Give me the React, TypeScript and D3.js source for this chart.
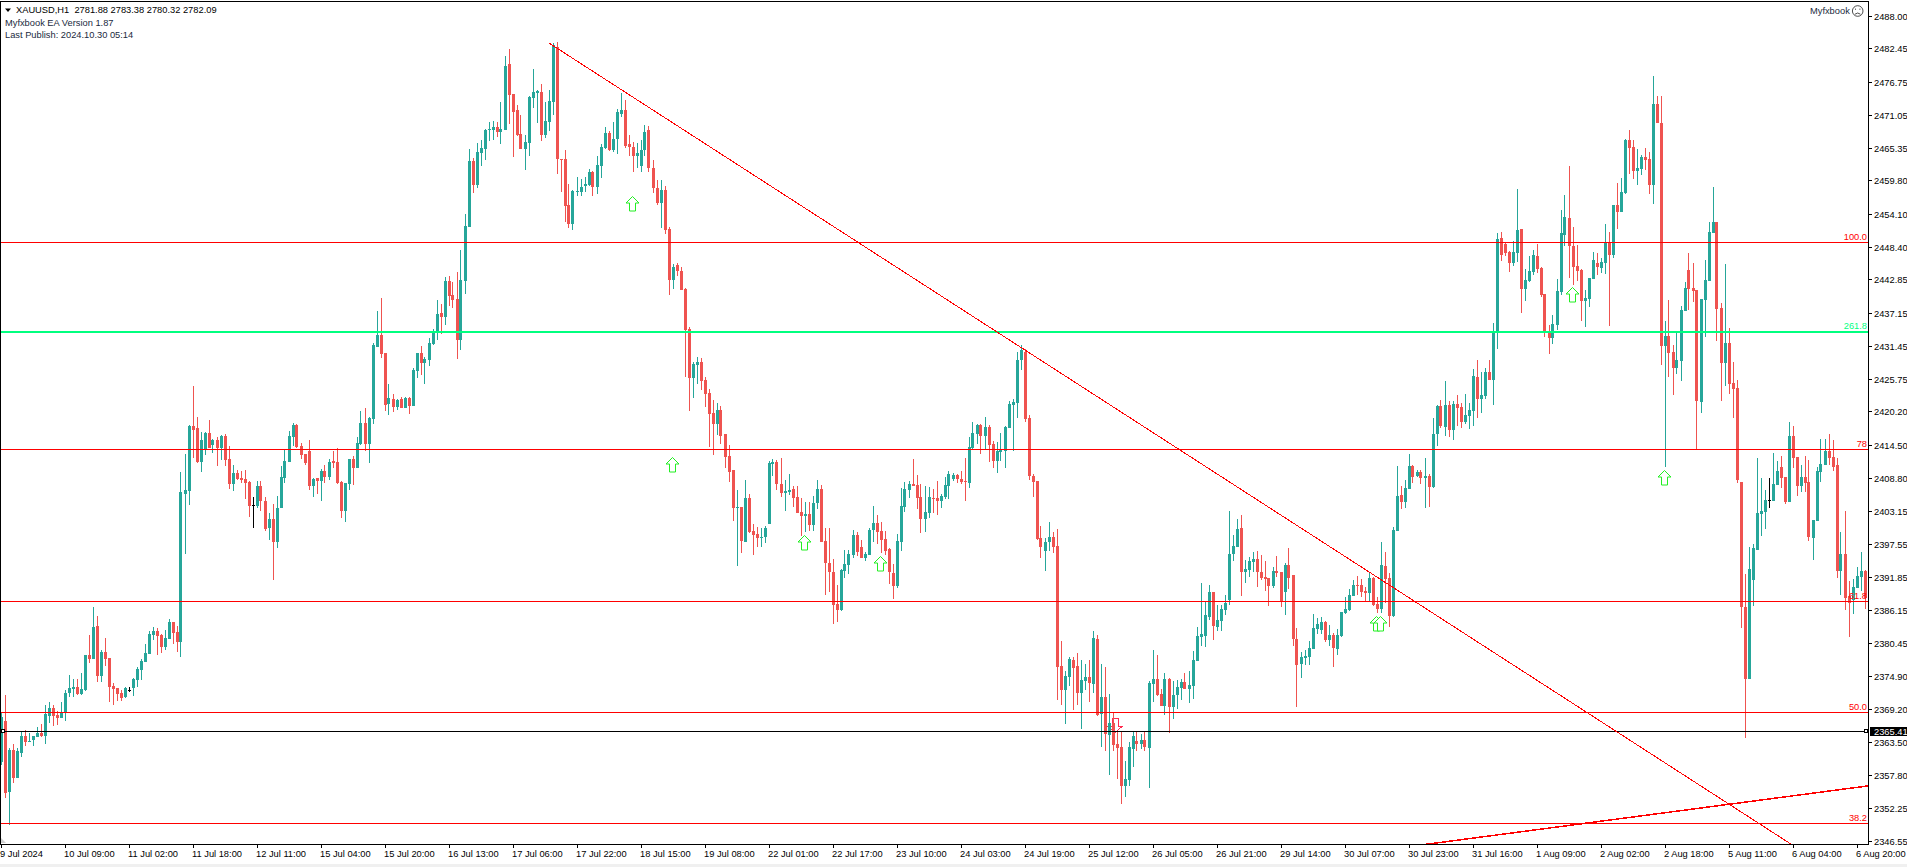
import React from 'react';
import * as d3 from 'd3';

const width = 1907;
const height = 867;
const plotRight = 1868;
const axisY = 844;

const opens = [
  2360.2,2367.2,2355.1,2362.2,2357.4,2361.7,2364.6,2363.6,2364,2364.5,
  2365.2,2364.6,2368.1,2369.4,2368.2,2367.7,2368.6,2372,2372.7,2373,
  2371.8,2372.5,2378.5,2377.8,2383.5,2374.9,2379,2378,2373.2,2372.9,
  2372,2371.3,2372.6,2372.9,2374.2,2376,2377.3,2378.7,2382,2382.6,
  2382,2379.9,2381.3,2384.2,2382.5,2380.8,2406.1,2406.7,2417.8,2417.5,
  2411.6,2413.9,2416.6,2414.5,2415.4,2414,2416.1,2412.1,2407.9,2409.7,
  2408.9,2408.7,2408.2,2404.2,2404.1,2407.5,2405,2400.3,2401.9,2397.9,
  2403.7,2408.9,2411.6,2415.9,2418,2414.4,2413,2413.5,2407.5,2408.9,
  2408.4,2410.1,2409.1,2411.8,2411.6,2408.2,2403.2,2407.9,2412.1,2410.6,
  2414.7,2418.3,2414.7,2419,2431.3,2433.4,2430.3,2421.6,2422.4,2421.1,
  2422.4,2420.9,2422.6,2421.2,2427.2,2430.3,2428.6,2429.1,2431.9,2433.9,
  2437.2,2436.5,2442.7,2440.3,2439.6,2432.5,2442.7,2451.9,2463.2,2459.1,
  2464.6,2465.3,2468.5,2468.5,2469,2468.2,2468.5,2479.9,2474.7,2472,
  2467.9,2465.3,2466.3,2474,2474.9,2475,2467.7,2469.9,2473.3,2482.8,
  2463.6,2463.6,2455.7,2452.4,2457.9,2457.9,2458.9,2459.1,2461.3,2458.8,
  2462.4,2465.5,2468,2465.1,2467,2471.3,2472,2466.1,2465.6,2464.1,
  2462.4,2465.1,2468.5,2462,2458.6,2456,2458.3,2451.6,2442.8,2445.4,
  2444.4,2441.3,2434.4,2426,2428.2,2428.8,2425.7,2423.4,2420,2418.1,
  2420.5,2416.4,2412.6,2410.2,2403.7,2403.9,2397.9,2405.4,2399.8,2399.3,
  2398.7,2398.8,2401,2411.3,2411.6,2407.9,2406.3,2406.5,2407,2405.6,
  2403.1,2402.4,2402.7,2400.8,2404.6,2407,2398.1,2394.3,2392.8,2387.3,
  2386.3,2392.9,2394,2395.7,2399.1,2397,2395.2,2395.7,2400,2401.2,
  2399.8,2398.4,2396.7,2392.6,2390.4,2397.9,2403.9,2406.8,2407.9,2407.7,
  2405.6,2401.9,2402.9,2405.4,2405.4,2404.9,2405.6,2407.5,2408.7,2409.4,
  2408.7,2408.3,2408,2414,2416.4,2418,2416.1,2417.6,2414.7,2411.8,
  2413.3,2413.5,2417.4,2421.4,2421.7,2429.1,2430.5,2419.2,2409.2,2408.4,
  2398.6,2396.4,2397.9,2398.8,2397.2,2376.6,2372.5,2374.8,2377.7,2376.6,
  2372,2374.1,2374.8,2373.6,2381.3,2368.4,2371.3,2364.8,2366.9,2363.3,
  2362.8,2356,2357.1,2362.4,2363.8,2363.3,2364,2362.6,2373.6,2374.4,
  2371.8,2369.8,2374.4,2369.6,2371.7,2372.9,2373.9,2372.7,2373.2,2377.5,
  2381.6,2381.8,2385,2389.3,2383.3,2384.4,2386.3,2387.9,2395.8,2397.1,
  2400.3,2392.8,2393.1,2394.5,2395,2392.8,2391.9,2391.7,2390.4,2392.9,
  2392.8,2389.3,2393.9,2392.2,2381.3,2377,2378,2378.2,2379.6,2383,
  2382.8,2384.2,2381.1,2382,2379.6,2381.8,2385.7,2386.2,2388.6,2390.5,
  2390.5,2389.5,2389.2,2391.7,2387.3,2386.4,2393.8,2391.7,2385.2,2399.8,
  2406,2404.8,2407,2410.9,2409.2,2409.9,2408.9,2409.2,2407.3,2416.4,
  2421.2,2417.6,2421.4,2417.1,2421.6,2421.1,2418.5,2419.5,2420.4,2426.2,
  2422.4,2422.9,2427,2425.7,2433.7,2450,2449,2447.6,2445.7,2447.5,
  2451.6,2441.3,2442.7,2444.2,2446.9,2444.9,2440.4,2433.7,2432.9,2435.1,
  2440.8,2450.5,2453.5,2448.7,2445.2,2444.5,2439.2,2439.6,2443,2445.8,
  2444.9,2445.8,2449.3,2447.1,2455.7,2454.5,2457.7,2466.8,2465.6,2461.5,
  2461.9,2463.9,2463.6,2459.1,2473,2469.7,2431.5,2433.2,2430.5,2427.7,
  2428.9,2437.5,2444.5,2441.5,2441.1,2421.9,2439.4,2442.7,2450.9,2452.8,
  2438,2428.6,2432,2425.2,2424.3,2408.2,2386.8,2374.4,2391.4,2396.5,
  2402.7,2403,2405.1,2404.9,2407.7,2410.8,2409,2404.8,2416.1,2412.5,
  2407.5,2409,2408.2,2398.6,2401.5,2409.9,2411.1,2413.5,2412.5,2411.1,
  2392.9,2395.8,2388.6,2388,2390,2391.9,2392.9,
];

const highs = [
  2368.8,2371.7,2362.5,2363.3,2362.5,2365.3,2365.7,2365.2,2364.6,2366.2,
  2366.7,2369.9,2370.5,2369.9,2368.9,2370.5,2372.5,2375.1,2374.4,2374.4,
  2375.4,2378.5,2382,2386.8,2385.2,2379.4,2381.4,2378,2373.7,2372.9,
  2372.5,2373,2373,2374.6,2376.5,2377.8,2380.4,2382.6,2383.3,2383.2,
  2382.1,2382.8,2384.7,2384.2,2383.5,2409.9,2413,2418,2424.7,2419.3,
  2416.8,2416.8,2418.8,2415.6,2415.9,2416.3,2416.4,2414.4,2411.1,2410.3,
  2410.1,2410.3,2408.4,2405.6,2408.4,2408.4,2405.6,2402.9,2404.4,2405.8,
  2410.9,2413.9,2417,2418.3,2418.1,2414.9,2413,2415.4,2408.9,2408.9,
  2410.4,2411.1,2412.1,2413.5,2414,2408.4,2408,2412.1,2412.7,2415.9,
  2420.4,2420.9,2419.3,2432,2437.5,2439.7,2430.3,2425,2423.3,2422.4,
  2422.8,2422.8,2422.8,2427.7,2430.3,2431.5,2429.6,2432.9,2434.5,2439.4,
  2438.7,2443.3,2443.5,2442.5,2444.2,2448,2454.1,2465.3,2463.7,2466.3,
  2466.8,2468.7,2469.9,2470.1,2469.9,2473.3,2481.2,2482.4,2474.7,2472.8,
  2471.1,2467.7,2474.4,2479,2475.4,2476.4,2473.3,2475.4,2483.5,2483.6,
  2463.6,2465.1,2459.3,2458.3,2460.5,2460.1,2460.5,2461.9,2461.5,2464.1,
  2466.1,2469.1,2468.4,2469.9,2472.1,2474.9,2473.7,2467.7,2466.5,2466.3,
  2466.8,2469.4,2469.2,2463.4,2460,2460,2459,2451.9,2445.6,2445.7,
  2445.1,2441.4,2434.8,2428.8,2429.6,2429.5,2426.2,2424.1,2422.3,2421.7,
  2421.2,2416.4,2414.5,2410.2,2406.8,2403.9,2408.5,2406.1,2401,2400.5,
  2400.3,2400.6,2411.8,2412.1,2412,2412.3,2408.5,2409.6,2407.5,2407.5,
  2405.4,2404.8,2404.8,2405.8,2408.5,2407.7,2400.3,2400.3,2395,2390.5,
  2393.3,2396.5,2396.5,2400,2399.6,2398.2,2396.2,2400.3,2404.1,2402.5,
  2401.3,2399.8,2396.9,2394.1,2399.3,2407.2,2408.2,2408.4,2412.1,2409.4,
  2407.9,2407.5,2407.3,2407,2408.4,2406.1,2409.1,2410.1,2409.7,2409.6,
  2410.1,2412.3,2415.9,2418.5,2418.1,2418.1,2419.3,2418,2415.2,2415,
  2416.6,2417.8,2422.1,2422.5,2430.5,2431.7,2431,2419.7,2409.6,2408.4,
  2400.6,2398.6,2401.3,2399.6,2400.1,2380.9,2375.8,2378.2,2378.2,2378.9,
  2377.7,2376.9,2377.7,2382.6,2382,2377,2376.5,2371.8,2368.8,2365.5,
  2365.5,2360.4,2363.6,2365.5,2365.3,2365,2365.5,2374.1,2379.4,2378.5,
  2372.7,2375.4,2374.6,2374.1,2374.3,2374.4,2375.4,2375.8,2379.2,2383.3,
  2390.9,2387.8,2390.5,2389.3,2387.1,2387.1,2388.8,2403.2,2399.1,2401.8,
  2402.5,2394.8,2395.3,2396.2,2396.4,2395.7,2394.6,2391.7,2393.6,2395.5,
  2392.8,2394.3,2396.9,2392.2,2383.2,2379,2379.4,2380.9,2385.5,2384.9,
  2385,2384.4,2383.7,2382.3,2383,2385.9,2388.5,2389.8,2391.4,2392.1,
  2391.6,2390.2,2392.6,2391.9,2388.5,2397.9,2396.2,2392.6,2400.5,2410.9,
  2407.5,2408.5,2413,2411.1,2410.2,2410.2,2412.3,2409.6,2419.2,2421.4,
  2422.2,2425.5,2422.1,2422.1,2423.1,2421.7,2423.3,2421.7,2427.6,2429.1,
  2427,2427.7,2429.1,2435.5,2450.9,2451.1,2449.3,2447.8,2449.5,2458.4,
  2451.6,2444.7,2447,2448,2449,2445,2440.4,2435.1,2436.8,2443,
  2454.8,2457.4,2462.4,2451.9,2448.8,2444.7,2441.1,2443.2,2447.6,2447.5,
  2446.6,2452.4,2451,2455.7,2459.5,2460.3,2467,2468.5,2466.8,2465.3,
  2464.3,2465.5,2464.8,2477.8,2474.4,2474.4,2435.8,2439.4,2431.7,2433.9,
  2438.4,2442.5,2447.5,2445.7,2441.1,2439.6,2446.3,2452.7,2458.8,2452.8,
  2438.9,2445.6,2434.6,2428.8,2425.7,2408.2,2392.4,2397,2397.6,2412.3,
  2408.9,2406.8,2408.9,2413.2,2411.8,2412.7,2409,2418.5,2417.8,2412.5,
  2411.1,2412.7,2412,2401.7,2410.8,2415.6,2415.6,2416.4,2415.4,2412.3,
  2399.6,2403.2,2391.2,2391.6,2393.6,2396.2,2393.1,
];

const lows = [
  2359.6,2354,2349.4,2356.5,2357.4,2361.1,2362.9,2363.6,2362.9,2364.5,
  2364.5,2363.3,2366.9,2366.4,2366.5,2367.7,2367.2,2371.3,2371.3,2371.7,
  2371.7,2372.3,2377.1,2377.8,2373.9,2373.9,2376.6,2370.5,2369.9,2370.6,
  2370.6,2371.2,2372.2,2371.5,2373,2374.2,2377.3,2378.7,2381.1,2378.5,
  2378.9,2379.4,2381.3,2380.4,2379,2378.2,2395.9,2404.3,2412.3,2411.5,
  2409.9,2412.8,2414,2413.2,2410.9,2412,2410.9,2407,2406.7,2408.5,
  2408,2405.3,2402.2,2400.3,2403.7,2403.2,2399.8,2398.3,2391.4,2396.9,
  2403.7,2408,2411.6,2414.4,2414,2412.1,2411.1,2406.8,2405.6,2406.1,
  2404.9,2408,2408.5,2410.6,2407.9,2402,2401.3,2406.8,2407.7,2410.6,
  2414.5,2413.5,2411.5,2418.1,2431.3,2429.5,2420.4,2419.7,2420.2,2420.5,
  2420.9,2420.9,2419.9,2421.2,2426,2426.5,2425,2428.1,2431.7,2432.5,
  2433.6,2435.1,2438.3,2438,2429.3,2430.8,2440.4,2451.9,2457.7,2458.6,
  2462.4,2463.4,2466.7,2466.8,2467.3,2466.1,2468.5,2469.6,2463.9,2467.5,
  2465.3,2461.7,2464.1,2472.3,2469.7,2466.7,2467.2,2468.4,2471.1,2461,
  2457.9,2452.8,2451.7,2451.4,2457.2,2457.2,2457.9,2458.9,2457.2,2457.6,
  2460.3,2465.3,2464.9,2464.8,2464.4,2470.8,2465.5,2464.1,2461.3,2462,
  2461.3,2464.1,2461.3,2457.7,2455.7,2451.7,2450.7,2440.2,2441.3,2443.5,
  2441.1,2426.2,2420.4,2422.6,2425,2424,2421.1,2414.2,2412.8,2416.2,
  2414.7,2410.6,2408.2,2401.5,2393.8,2396,2397.9,2399.4,2395.7,2397,
  2397,2397.7,2401,2409.2,2406.8,2405.6,2403.2,2406,2403.9,2402.9,
  2398.9,2399.6,2399.8,2399.8,2403.6,2397.9,2388.8,2389.3,2383.8,2384.2,
  2386.1,2391.7,2392.4,2395.2,2395.5,2395.2,2394.6,2395.7,2397.9,2397.6,
  2396,2395.7,2390.7,2388.1,2390,2396.4,2403,2405.4,2407.5,2403.6,
  2399.4,2399.6,2402,2402.9,2402.5,2403.7,2405.3,2405.3,2408.4,2408,
  2407.9,2404.9,2407.2,2413.7,2414.7,2413,2413.7,2411.6,2410.6,2409.7,
  2411.8,2410.6,2417.4,2413.5,2419.2,2427.4,2418.5,2408.5,2405.6,2398.2,
  2395.2,2392.9,2396.4,2396,2370.8,2370,2366.7,2373.2,2369.1,2370,
  2365.8,2372.5,2370.5,2372,2368,2362.8,2362,2358,2362,2357.3,
  2353,2354.2,2356,2359.3,2362,2362.4,2362,2355.7,2370.5,2371.5,
  2369.8,2368.2,2365.2,2367.6,2369.3,2370.8,2372.7,2370.3,2371,2377.5,
  2380.1,2379.9,2384.5,2381.1,2382.6,2382.6,2385.4,2387.1,2394.6,2397.1,
  2388.6,2390.9,2391.9,2392.8,2390.2,2391.4,2389.5,2386.9,2390,2391.9,
  2386.8,2385.4,2389.8,2380.1,2369.6,2374.6,2376.8,2376.8,2379.6,2382.2,
  2382.1,2380.8,2380.1,2376.5,2378.5,2381.6,2385.6,2386.1,2388.6,2388.8,
  2388.5,2387.8,2387.8,2386.9,2385.7,2385.7,2387.4,2383.3,2385,2399.8,
  2403.6,2403.7,2407,2408,2409,2407.8,2403.7,2403.9,2407.2,2414.4,
  2417.4,2416.1,2415.9,2415.4,2417.8,2417.4,2418.1,2417.3,2417.8,2419.2,
  2420,2422.4,2425.7,2421.4,2431,2446.1,2447,2444.2,2445.2,2445.9,
  2437.2,2439.2,2442.5,2443.7,2444,2439.9,2433,2430.1,2431.9,2434.3,
  2440.3,2448.7,2443.2,2442,2442.7,2435.8,2434.8,2438.2,2443,2443.7,
  2444,2443.9,2434.9,2446.6,2451.6,2454.5,2457.6,2461,2460.2,2459.1,
  2460.8,2461.7,2457.6,2455.9,2469.7,2428.3,2410.8,2426.2,2423.1,2426.7,
  2425.5,2437.5,2437.7,2439.1,2413.8,2420,2433.1,2442.7,2450.9,2432.4,
  2422.1,2424.7,2423.3,2419.2,2408,2383.2,2364.3,2374.4,2386.9,2396.5,
  2398.9,2400.1,2403.7,2404.9,2407.7,2407.2,2404.4,2404.8,2410.6,2405.8,
  2406.5,2406.5,2398.1,2394.8,2401.5,2408.2,2411.1,2411.1,2410.1,2391.7,
  2388.8,2386.2,2381.6,2385.6,2390,2389.5,2386.4,
];

const closes = [
  2367.9,2354.9,2362.2,2357.4,2362.1,2364.6,2363.6,2363.8,2364.6,2365.2,
  2364.6,2368.4,2369.4,2368.1,2367.7,2368.6,2372,2372.9,2373,2371.8,
  2372.7,2378.5,2377.8,2383.3,2374.9,2379,2377.8,2373,2372.7,2371.8,
  2371.2,2372.9,2372.6,2374.4,2376.1,2377.5,2378.9,2382.1,2382.6,2381.8,
  2379.9,2381.4,2384.2,2382.3,2380.8,2406.5,2406.8,2417.8,2417.1,2411.6,
  2415.4,2416.6,2414,2415.4,2414,2416.1,2412,2407.9,2409.7,2408.7,
  2408.5,2408,2404.1,2404.2,2407.5,2405,2400.1,2401.9,2397.9,2403.7,
  2409.1,2411.8,2416.1,2418,2414.2,2412.8,2411.5,2407.5,2408.7,2408.4,
  2410.1,2409.1,2411.6,2411.5,2408,2403.2,2408,2412.1,2410.6,2414.9,
  2418.3,2414.7,2419.2,2431.7,2433.4,2430.1,2421.4,2422.6,2421.1,2422.3,
  2420.9,2422.6,2421.2,2427.4,2430.3,2428.6,2429.3,2432,2433.9,2437,
  2436.5,2442.7,2440.1,2439.4,2432.5,2442.8,2452.1,2463.2,2459.1,2464.8,
  2465.5,2468.5,2468.7,2469,2468.2,2468.7,2479.5,2474.5,2471.6,2467.7,
  2465.3,2466.5,2474.2,2475,2475.2,2467.7,2470.1,2473.5,2483.1,2463.6,
  2463.4,2455.5,2452.4,2458.1,2458.1,2458.8,2459.3,2461.3,2458.8,2462.5,
  2465.6,2468,2465.1,2467,2471.6,2472,2465.8,2465.6,2464.1,2464.6,
  2465.1,2468.2,2462,2458.6,2456,2458.3,2451.4,2442.8,2445.1,2444.4,
  2441.1,2434.3,2426,2428.4,2428.8,2425.5,2423.3,2419.8,2418.1,2420.5,
  2416,2412.5,2409.9,2403.7,2403.9,2398.1,2405.4,2399.6,2399.1,2398.6,
  2398.8,2400.3,2411.4,2411.6,2407.9,2406.3,2406.6,2406.8,2405.4,2402.9,
  2402.4,2402.7,2400.8,2404.6,2407,2397.9,2394.3,2392.8,2387.1,2386.3,
  2393.1,2394.1,2395.9,2399.1,2396.2,2395.2,2395.8,2399.9,2401.2,2399.6,
  2398.2,2396.4,2392.8,2390.4,2398.1,2404,2407,2407.9,2407.5,2405.4,
  2401.9,2403,2405.6,2405.3,2404.9,2405.8,2407.7,2409.6,2409.4,2408.7,
  2408.2,2408.2,2414.2,2416.6,2418,2416.1,2417.6,2414.5,2411.8,2413.5,
  2413.7,2417.6,2421.6,2421.9,2429.1,2430.8,2419,2409.2,2408.2,2398.4,
  2397.1,2397.9,2398.8,2397.1,2376.5,2372.5,2374.9,2377.8,2376.3,2372,
  2374.3,2374.8,2373.7,2381.4,2368.2,2371.3,2365,2366.9,2363.1,2362.6,
  2356,2357.3,2362.8,2364.6,2363.3,2364,2362.8,2373.7,2374.4,2371.7,
  2369.8,2374.4,2369.6,2371.7,2373,2373.9,2372.7,2373.4,2377.7,2381.8,
  2382.1,2385.4,2389.3,2383.5,2384.5,2386.4,2387.4,2395.8,2397.2,2400.1,
  2392.8,2393.3,2394.6,2395,2392.8,2391.7,2391.6,2390.4,2392.9,2392.6,
  2387.6,2393.9,2391.7,2381.3,2376.8,2378.2,2378.4,2379.7,2383.2,2383.8,
  2384.2,2381.1,2382,2379.7,2382,2385.9,2386.4,2388.8,2390.5,2390.4,
  2389.3,2389.2,2391.7,2387.1,2386.4,2393.9,2391.6,2385.2,2400,2405.8,
  2404.8,2407.2,2410.9,2409,2409.9,2408.9,2409.2,2407.3,2416.4,2421.2,
  2417.8,2421.4,2417.1,2421.6,2420.9,2418.5,2419.7,2420.5,2426.4,2422.4,
  2423.1,2427,2425.7,2433.9,2449.9,2447.1,2447.5,2445.7,2447.6,2451.4,
  2441.3,2442.8,2444.4,2447.1,2444.7,2440.3,2433.9,2432.9,2435.3,2440.9,
  2450.9,2453.6,2448.7,2445.1,2444.4,2439.2,2439.7,2443.2,2446.3,2445.1,
  2445.9,2449.2,2447.1,2455.7,2454.5,2457.9,2466.8,2465.5,2461.5,2462,
  2463.9,2463.4,2459.1,2473,2469.7,2431.5,2433.2,2430.3,2427.7,2429.1,
  2437.7,2441.5,2441.3,2440.9,2422.1,2439.6,2442.8,2451,2452.8,2437.9,
  2428.6,2432,2425,2424.1,2408.5,2386.8,2374.4,2393.3,2396.9,2402.9,
  2403.2,2405.1,2405.1,2407.9,2410.1,2408.9,2404.8,2416.1,2412.3,2407.5,
  2409,2408,2398.8,2401.7,2410.1,2411.3,2413.5,2412.3,2410.8,2392.9,
  2395.8,2388.3,2387.4,2390.2,2392.1,2392.9,2388.3,
];

const priceTicks = [
  '2488.00','2482.45','2476.75','2471.05','2465.35','2459.80','2454.10','2448.40','2442.85',
  '2437.15','2431.45','2425.75','2420.20','2414.50','2408.80','2403.15','2397.55','2391.85',
  '2386.15','2380.45','2374.90','2369.20','2363.50','2357.80','2352.25','2346.55',
];

const dateLabels = [
  '9 Jul 2024','10 Jul 09:00','11 Jul 02:00','11 Jul 18:00','12 Jul 11:00','15 Jul 04:00',
  '15 Jul 20:00','16 Jul 13:00','17 Jul 06:00','17 Jul 22:00','18 Jul 15:00','19 Jul 08:00',
  '22 Jul 01:00','22 Jul 17:00','23 Jul 10:00','24 Jul 03:00','24 Jul 19:00','25 Jul 12:00',
  '26 Jul 05:00','26 Jul 21:00','29 Jul 14:00','30 Jul 07:00','30 Jul 23:00','31 Jul 16:00',
  '1 Aug 09:00','2 Aug 02:00','2 Aug 18:00','5 Aug 11:00','6 Aug 04:00','6 Aug 20:00',
];
const barsPerLabel = 16;

const fiboNames = ['100.0', '78', '61.8', '50.0', '38.2'];
const fiboPrices = [2449.25, 2413.8, 2387.75, 2368.7, 2349.7];
const greenName = '261.8';
const greenPrice = 2434.0;
const lastPrice = 2365.41;

const upArrowBars = [158, 168, 201, 220, 344, 345, 393, 416];
const upArrowPrices = [2457.1, 2412.35, 2399.1, 2395.5, 2385.2, 2385.2, 2441.5, 2410.2];
const downArrowBar = 278.7;
const downArrowPrice = 2367.7;

// bar, price pairs of the two trend lines
const trendA = [[137, 2483.4], [447.6, 2346.0]];
const trendB = [[355.4, 2346.0], [466.8, 2356.1]];

const BULL = '#26a69a';
const BEAR = '#ef5350';
const RED = '#ff0000';
const FONT = '"Liberation Sans", Arial, sans-serif';

const xScale = d3.scaleLinear().domain([0, opens.length - 1]).range([1, 1865]);
const yScale = d3.scaleLinear().domain([2488, 2346.55]).range([16.5, 841.5]);
const row = (p: number) => Math.floor(yScale(p));
// candle edges were read as pixel boundaries, so they snap to the nearest one
const edge = (p: number) => Math.round(yScale(p));
const trendPath = d3.line<number[]>().x(d => xScale(d[0]) + 0.5).y(d => yScale(d[1]));

const App = () => {
  return (
    <svg width={width} height={height} style={{ position: 'absolute', left: 0, top: 0, display: 'block', background: '#fff' }} fontFamily={FONT} fontSize={9.3}>
      <defs>
        <clipPath id="plot"><rect x={1} y={2} width={plotRight - 1} height={axisY - 2} /></clipPath>
      </defs>

      <g clipPath="url(#plot)">
        {/* down arrow sits behind the candles */}
        <path
          transform={`translate(${Math.floor(xScale(downArrowBar))},${row(downArrowPrice)})`}
          d="M-3,0H3V8.5H7L0,14.5L-7,8.5H-3Z"
          fill="#fff" stroke="#ff2a4d" shapeRendering="crispEdges"
        />

        <g shapeRendering="crispEdges">
          {opens.map((o, i) => {
            const c = closes[i];
            const col = Math.floor(xScale(i));
            const color = c > o ? BULL : c < o ? BEAR : '#000';
            const top = edge(Math.max(o, c));
            const bottom = edge(Math.min(o, c));
            const wickTop = edge(highs[i]);
            return (
              <g key={i} fill={color}>
                <rect x={col} y={wickTop} width={1} height={Math.max(1, edge(lows[i]) - wickTop)} />
                <rect x={col - 1} y={top} width={3} height={Math.max(1, bottom - top)} />
              </g>
            );
          })}
        </g>

        <g shapeRendering="crispEdges">
          {fiboPrices.map(p => (
            <rect key={p} x={0} y={row(p)} width={plotRight} height={1} fill={RED} />
          ))}
          <rect x={0} y={row(greenPrice)} width={plotRight} height={2} fill="#00ff7f" />
          <rect x={0} y={row(lastPrice)} width={plotRight} height={1} fill="#000" />
        </g>

        <path d={trendPath(trendA as number[][]) || ''} fill="none" stroke={RED} strokeWidth={1} shapeRendering="crispEdges" />
        <path d={trendPath(trendB as number[][]) || ''} fill="none" stroke={RED} strokeWidth={1.5} shapeRendering="crispEdges" />

        {upArrowBars.map((b, i) => (
          <path
            key={i}
            transform={`translate(${Math.floor(xScale(b)) - 0.5},${row(upArrowPrices[i]) + 0.5})`}
            d="M0,0L6.5,6.5H3V14.5H-3V6.5H-6.5Z"
            fill="#fff" stroke="#22ee22" strokeWidth={1}
          />
        ))}

        {fiboNames.map((name, i) => (
          <text key={name} x={plotRight - 1} y={row(fiboPrices[i]) - 2.5} textAnchor="end" fill={RED}>{name}</text>
        ))}
        <text x={plotRight - 1} y={row(greenPrice) - 2} textAnchor="end" fill="#00ff7f">{greenName}</text>
      </g>

      {/* last price markers on the black line */}
      <rect x={1.5} y={row(lastPrice) - 1.5} width={3} height={3} fill="#fff" stroke="#000" shapeRendering="crispEdges" />
      <rect x={1864.5} y={row(lastPrice) - 1.5} width={3} height={3} fill="#fff" stroke="#000" shapeRendering="crispEdges" />

      {/* frame */}
      <g shapeRendering="crispEdges" fill="#000">
        <rect x={0} y={1} width={plotRight + 1} height={1} />
        <rect x={0} y={1} width={1} height={axisY} />
        <rect x={plotRight} y={1} width={1} height={axisY} />
        <rect x={0} y={axisY} width={plotRight + 1} height={1} />
      </g>
      <path d={`M1,${axisY - 6}L6,${axisY - 1}H1Z`} fill="#d0d0d0" />

      {priceTicks.map(t => (
        <g key={t}>
          <rect x={plotRight + 1} y={row(+t)} width={3} height={1} fill="#000" shapeRendering="crispEdges" />
          <text x={1874} y={yScale(+t) + 3.5} fill="#000">{t}</text>
        </g>
      ))}

      <rect x={1870} y={row(lastPrice) - 4} width={37} height={9} fill="#000" shapeRendering="crispEdges" />
      <text x={1874} y={row(lastPrice) + 3.5} fill="#fff">{lastPrice.toFixed(2)}</text>

      {dateLabels.map((d, i) => {
        const tx = Math.floor(xScale(i * barsPerLabel));
        return (
          <g key={d}>
            <rect x={tx} y={axisY + 1} width={1} height={3} fill="#000" shapeRendering="crispEdges" />
            <text x={tx - 1} y={857} fill="#000">{d}</text>
          </g>
        );
      })}

      {/* header */}
      <path d="M5,8.5H11L8,12Z" fill="#000" />
      <text x={16} y={13} fill="#000" xmlSpace="preserve">XAUUSD,H1  2781.88 2783.38 2780.32 2782.09</text>
      <text x={5} y={26} fill="#1a2a40">Myfxbook EA Version 1.87</text>
      <text x={5} y={38} fill="#1a2a40">Last Publish: 2024.10.30 05:14</text>

      <text x={1810} y={14} fill="#1a2a40">Myfxbook</text>
      <g fill="none" stroke="#222" strokeWidth={0.8}>
        <circle cx={1857.7} cy={11} r={5.3} />
        <path d="M1855,14.2Q1857.7,11.8 1860.4,14.2" />
        <path d="M1855.5,8.6V9.8M1859.9,8.6V9.8" />
      </g>

      <rect x={0} y={864} width={width} height={3} fill="#f0f0f0" shapeRendering="crispEdges" />
    </svg>
  );
};

export default App;
